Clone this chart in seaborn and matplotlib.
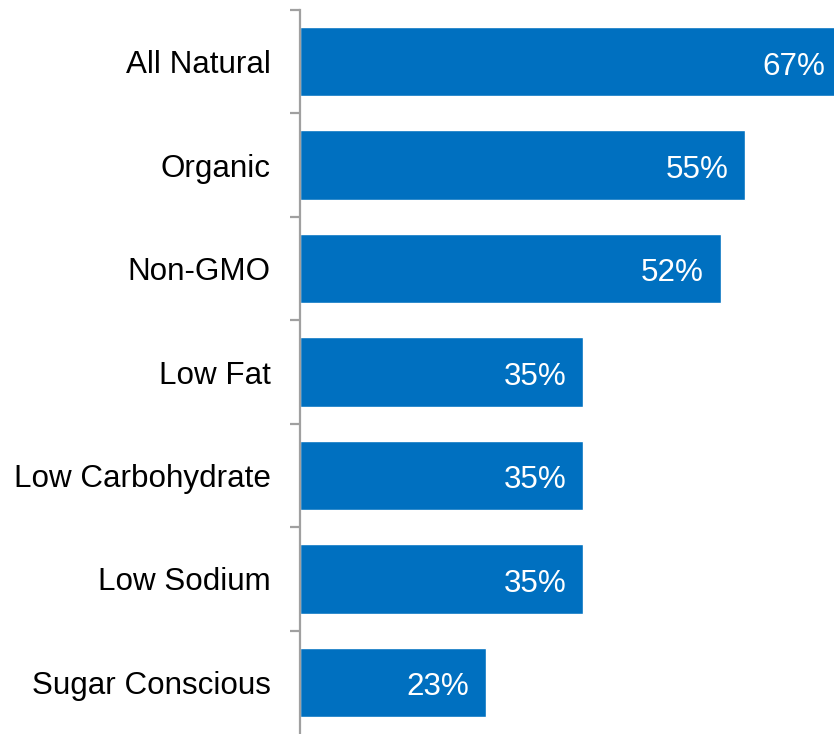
import matplotlib
matplotlib.use("Agg")
import matplotlib.pyplot as plt
import seaborn as sns
import numpy as np
import pandas as pd

categories = ["All Natural", "Organic", "Non-GMO", "Low Fat",
              "Low Carbohydrate", "Low Sodium", "Sugar Conscious"]
values = [67, 55, 52, 35, 35, 35, 23]

sns.set_style("white")
plt.rcParams["font.family"] = ["Liberation Sans", "DejaVu Sans"]

df = pd.DataFrame({"claim": categories, "share": values})

fig = plt.figure(figsize=(8.34, 7.34), dpi=100)
ax = fig.add_axes([300 / 834, 0.0, 534 / 834, 1 - 10 / 734])

sns.barplot(data=df, x="share", y="claim", orient="h", color="#0070C0",
            saturation=1, width=0.67, ax=ax)

ax.set_xlim(0, 66.0)
ax.set_ylim(len(categories) - 0.5, -0.5)
ax.set_xlabel("")
ax.set_ylabel("")
ax.set_xticks([])

for spine in ["top", "right", "bottom"]:
    ax.spines[spine].set_visible(False)
ax.spines["left"].set_color("#A0A0A0")
ax.spines["left"].set_linewidth(1.6)

ax.set_yticks(range(len(categories)))
ax.set_yticklabels(categories, fontsize=22.6, color="black")
ax.tick_params(axis="y", which="major", left=False, length=0, pad=21)
# separator ticks between categories (the bottom one falls off the canvas)
ax.set_yticks(np.arange(-0.5, len(categories) - 1, 1.0), minor=True)
ax.tick_params(axis="y", which="minor", left=True, length=7, width=1.6,
               color="#A0A0A0", direction="out")

for i, v in enumerate(values):
    ax.annotate(f"{v}%", xy=(v, i), xytext=(-12, -1), textcoords="offset points",
                ha="right", va="center_baseline", color="white", fontsize=22.6,
                annotation_clip=False, clip_on=True)

fig.savefig("out.png", dpi=100)
